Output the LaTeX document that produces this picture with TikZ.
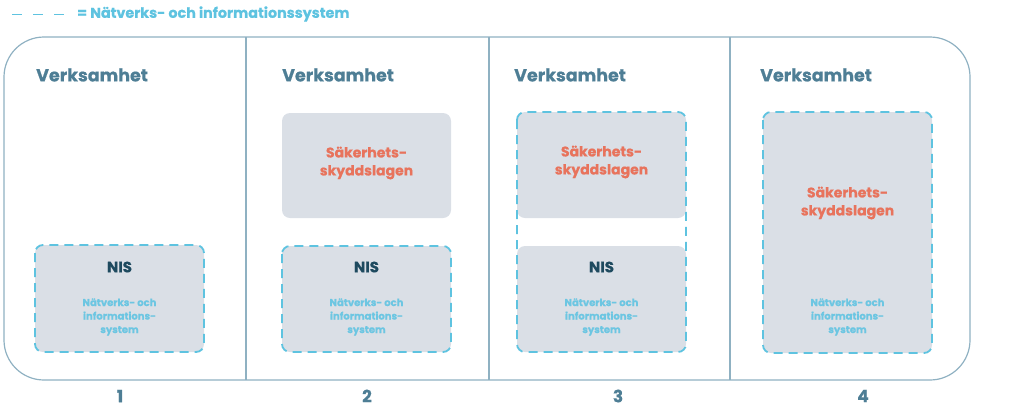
\documentclass[tikz,border=0pt]{standalone}
\usepackage{fontspec}
\setmainfont{Poppins}[BoldFont={* Bold},BoldFeatures={FakeBold=0.6}]
\definecolor{frame}{HTML}{8FB1C2}
\definecolor{verk}{HTML}{4E7E95}
\definecolor{boxfill}{HTML}{DADFE6}
\definecolor{dashblue}{HTML}{5EC3E0}
\definecolor{sak}{HTML}{E8735C}
\definecolor{nis}{HTML}{1E4A5F}
\definecolor{natv}{HTML}{6CC6E2}
\begin{document}
\begin{tikzpicture}[x=1pt,y=-1pt,
  verklabel/.style={anchor=west,text=verk,font=\bfseries\fontsize{17.5}{20}\selectfont,inner sep=0},
  numlabel/.style={text=verk,font=\bfseries\fontsize{17}{20}\selectfont,inner sep=0},
  sakbox/.style={fill=boxfill,rounded corners=8pt},
  nisline/.style={draw=dashblue,line width=1.8pt,dash pattern=on 9pt off 6pt,rounded corners=8pt},
  saktext/.style={text=sak,font=\bfseries\fontsize{14}{18}\selectfont,align=center,inner sep=0},
  nistext/.style={text=nis,font=\bfseries\fontsize{15}{18}\selectfont,inner sep=0},
  natvtext/.style={text=natv,font=\bfseries\fontsize{10}{13.5}\selectfont,align=center,inner sep=0}]
\useasboundingbox (0,0) rectangle (1024,413);
% legend
\coordinate (ls) at (12,14.5);
\coordinate (le) at (64,14.5);
\draw[dashblue,line width=1.8pt,dash pattern=on 10pt off 11pt] (ls) -- (le);
\node[anchor=west,text=dashblue,font=\bfseries\fontsize{14.3}{16}\selectfont,inner sep=0] (legend) at (77,14) {= Nätverks- och informationssystem};
% frame
\draw[frame,line width=1.2pt,rounded corners=40pt] (4,37) rectangle (970,380);
\coordinate (d1t) at (246,37); \coordinate (d1b) at (246,380);
\coordinate (d2t) at (489,37); \coordinate (d2b) at (489,380);
\coordinate (d3t) at (730,37); \coordinate (d3b) at (730,380);
\draw[frame,line width=1.2pt] (d1t) -- (d1b);
\draw[frame,line width=1.2pt] (d2t) -- (d2b);
\draw[frame,line width=1.2pt] (d3t) -- (d3b);
% panel labels
\node[verklabel] (v1) at (36,75) {Verksamhet};
\node[verklabel] (v2) at (282,75) {Verksamhet};
\node[verklabel] (v3) at (514,75) {Verksamhet};
\node[verklabel] (v4) at (760,75) {Verksamhet};
\node[numlabel] (n1) at (120,396) {1};
\node[numlabel] (n2) at (367,396) {2};
\node[numlabel] (n3) at (618,396) {3};
\node[numlabel] (n4) at (863,396) {4};
% panel 1
\fill[sakbox] (35,245) rectangle (204,352);
\draw[nisline] (35,245) rectangle (204,352);
\node[nistext] (nis1) at (119.5,267) {NIS};
\node[natvtext] (nv1) at (119.5,317) {Nätverks- och\\informations-\\system};
% panel 2
\fill[sakbox] (282,113) rectangle (451,218);
\node[saktext] (sk2) at (366.5,163) {Säkerhets-\\skyddslagen};
\fill[sakbox] (282,246) rectangle (451,352);
\draw[nisline] (282,246) rectangle (451,352);
\node[nistext] (nis2) at (366.5,267) {NIS};
\node[natvtext] (nv2) at (366.5,317) {Nätverks- och\\informations-\\system};
% panel 3
\fill[sakbox] (517,112) rectangle (686,218);
\fill[sakbox] (517,246) rectangle (686,352);
\draw[nisline] (517,112) rectangle (686,352);
\node[saktext] (sk3) at (601.5,162) {Säkerhets-\\skyddslagen};
\node[nistext] (nis3) at (601.5,267) {NIS};
\node[natvtext] (nv3) at (601.5,317) {Nätverks- och\\informations-\\system};
% panel 4
\fill[sakbox] (763,112) rectangle (932,353);
\draw[nisline] (763,112) rectangle (932,353);
\node[saktext] (sk4) at (847.5,203) {Säkerhets-\\skyddslagen};
\node[natvtext] (nv4) at (847.5,317) {Nätverks- och\\informations-\\system};
\end{tikzpicture}
\end{document}
